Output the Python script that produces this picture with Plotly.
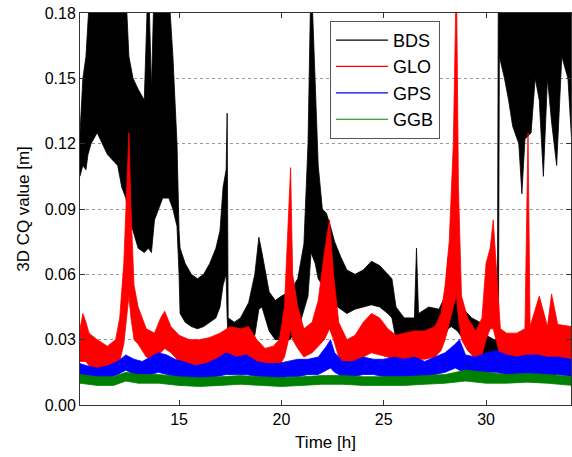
import plotly.graph_objects as go

# envelopes (low / high) of each series; time in hours
bds_t = [10.16, 10.3, 10.45, 10.55, 10.7, 11.0, 11.5, 12.0, 12.2, 12.4, 12.55, 12.75, 13.0, 13.3, 13.5,
         13.65, 13.8, 14.2, 14.5, 14.7, 14.9, 15.0, 15.05, 15.3, 15.6, 15.9, 16.2, 16.5, 16.8, 17.0,
         17.15, 17.3, 17.35, 17.4, 17.7, 18.0, 18.4, 18.7, 18.9, 19.05, 19.2, 19.4, 19.7, 20.0, 20.4,
         20.8, 21.1, 21.3, 21.45, 21.65, 21.8, 22.0, 22.2, 22.4, 22.6, 22.9, 23.2, 23.6, 24.0, 24.4,
         24.8, 25.2, 25.4, 25.6, 26.0, 26.5, 26.6, 26.7, 27.2, 27.7, 28.0, 28.15, 28.3, 28.6, 28.9,
         29.3, 29.7, 30.0, 30.4, 30.55, 30.6, 30.65, 30.9, 31.1, 31.3, 31.6, 31.75, 31.9, 32.2, 32.4,
         32.6, 32.8, 33.0, 33.2, 33.45, 33.7, 34.0, 34.19]
bds_lo = [0.105, 0.11, 0.108, 0.115, 0.12, 0.125, 0.115, 0.11, 0.10, 0.095, 0.085, 0.08, 0.072, 0.07, 0.072,
          0.07, 0.085, 0.095, 0.095, 0.09, 0.082, 0.06, 0.042, 0.038, 0.036, 0.035, 0.036, 0.038, 0.04, 0.045,
          0.055, 0.06, 0.04, 0.03, 0.026, 0.027, 0.03, 0.032, 0.044, 0.045, 0.04, 0.034, 0.03, 0.03, 0.03,
          0.034, 0.044, 0.05, 0.07, 0.065, 0.058, 0.055, 0.052, 0.05, 0.046, 0.044, 0.042, 0.044, 0.045, 0.046,
          0.045, 0.042, 0.04, 0.03, 0.028, 0.027, 0.03, 0.029, 0.03, 0.03, 0.032, 0.035, 0.036, 0.034, 0.03,
          0.028, 0.025, 0.02, 0.018, 0.018, 0.018, 0.16, 0.15, 0.14, 0.128, 0.12, 0.097, 0.122, 0.125, 0.15,
          0.14, 0.105, 0.15, 0.13, 0.11, 0.16, 0.15, 0.12]
bds_hi = [0.125, 0.15, 0.16, 0.18, 0.20, 0.20, 0.20, 0.20, 0.20, 0.19, 0.16, 0.15, 0.145, 0.14, 0.20,
          0.145, 0.20, 0.20, 0.19, 0.16, 0.12, 0.08, 0.072, 0.065, 0.06, 0.058, 0.06, 0.065, 0.072, 0.08,
          0.10, 0.108, 0.134, 0.04, 0.038, 0.04, 0.047, 0.06, 0.077, 0.07, 0.062, 0.052, 0.048, 0.05, 0.052,
          0.058, 0.074, 0.12, 0.20, 0.15, 0.11, 0.09, 0.088, 0.082, 0.075, 0.068, 0.062, 0.06, 0.062, 0.066,
          0.064, 0.06, 0.058, 0.045, 0.04, 0.04, 0.072, 0.042, 0.045, 0.044, 0.05, 0.068, 0.06, 0.055, 0.044,
          0.04, 0.038, 0.032, 0.03, 0.03, 0.20, 0.20, 0.20, 0.20, 0.20, 0.20, 0.20, 0.20, 0.20, 0.20,
          0.20, 0.20, 0.20, 0.20, 0.20, 0.20, 0.20, 0.20]

glo_t = [10.16, 10.3, 10.45, 10.6, 11.0, 11.5, 11.9, 12.1, 12.3, 12.45, 12.55, 12.65, 12.8, 13.0, 13.4,
         13.8, 14.1, 14.3, 14.6, 15.0, 15.5, 16.0, 16.5, 17.0, 17.5, 18.0, 18.4, 18.8, 19.2, 19.6,
         19.9, 20.15, 20.35, 20.45, 20.55, 20.8, 21.1, 21.5, 21.8, 22.1, 22.35, 22.55, 22.8, 23.2, 23.6,
         24.0, 24.4, 24.8, 25.2, 25.6, 26.0, 26.5, 27.0, 27.5, 27.8, 28.0, 28.2, 28.4, 28.55, 28.65,
         28.8, 29.1, 29.5, 29.8, 30.0, 30.2, 30.35, 30.5, 30.7, 31.0, 31.5, 31.9, 32.05, 32.15, 32.6,
         33.0, 33.2, 33.5, 34.19]
glo_lo = [0.02, 0.02, 0.02, 0.018, 0.016, 0.015, 0.017, 0.02, 0.028, 0.04, 0.05, 0.04, 0.03, 0.028, 0.022,
          0.021, 0.024, 0.026, 0.024, 0.02, 0.018, 0.018, 0.019, 0.02, 0.021, 0.02, 0.021, 0.018, 0.015, 0.016,
          0.018, 0.022, 0.03, 0.035, 0.03, 0.026, 0.022, 0.024, 0.027, 0.03, 0.035, 0.03, 0.022, 0.018, 0.019,
          0.022, 0.024, 0.023, 0.022, 0.02, 0.02, 0.021, 0.021, 0.022, 0.025, 0.03, 0.038, 0.045, 0.05, 0.04,
          0.03, 0.025, 0.021, 0.023, 0.03, 0.035, 0.035, 0.03, 0.022, 0.02, 0.02, 0.021, 0.02, 0.021, 0.021,
          0.022, 0.022, 0.021, 0.02]
glo_hi = [0.035, 0.042, 0.038, 0.033, 0.03, 0.027, 0.03, 0.04, 0.065, 0.10, 0.125, 0.09, 0.055, 0.045, 0.035,
          0.033, 0.04, 0.043, 0.036, 0.032, 0.03, 0.03, 0.031, 0.033, 0.036, 0.035, 0.036, 0.03, 0.026, 0.027,
          0.03, 0.045, 0.085, 0.109, 0.06, 0.045, 0.035, 0.038, 0.048, 0.07, 0.085, 0.06, 0.038, 0.03, 0.032,
          0.038, 0.042, 0.04, 0.035, 0.032, 0.033, 0.034, 0.034, 0.036, 0.042, 0.055, 0.075, 0.12, 0.20, 0.10,
          0.05, 0.04, 0.034, 0.04, 0.065, 0.072, 0.085, 0.065, 0.035, 0.033, 0.033, 0.035, 0.125, 0.036, 0.05,
          0.036, 0.051, 0.037, 0.036]

gps_t = [10.16, 10.5, 11.0, 11.5, 12.0, 12.4, 12.8, 13.2, 13.6, 14.0, 14.4, 14.8, 15.2, 15.8, 16.3,
         16.8, 17.3, 17.8, 18.3, 18.8, 19.3, 19.8, 20.3, 20.8, 21.3, 21.8, 22.2, 22.4, 22.6, 23.0,
         23.5, 24.0, 24.5, 25.0, 25.5, 26.0, 26.5, 27.0, 27.5, 28.0, 28.5, 28.7, 29.0, 29.5, 30.0,
         30.5, 31.0, 31.5, 32.0, 32.5, 33.0, 33.5, 34.19]
gps_lo = [0.013, 0.012, 0.012, 0.012, 0.014, 0.016, 0.014, 0.013, 0.014, 0.015, 0.014, 0.013, 0.012, 0.011, 0.012,
          0.013, 0.014, 0.014, 0.014, 0.013, 0.012, 0.012, 0.013, 0.013, 0.014, 0.014, 0.016, 0.017, 0.015, 0.013,
          0.013, 0.014, 0.014, 0.013, 0.013, 0.013, 0.013, 0.013, 0.014, 0.015, 0.017, 0.016, 0.014, 0.014, 0.015,
          0.015, 0.014, 0.014, 0.014, 0.014, 0.013, 0.014, 0.013]
gps_hi = [0.019, 0.018, 0.017, 0.018, 0.02, 0.023, 0.021, 0.02, 0.022, 0.024, 0.023, 0.021, 0.02, 0.018, 0.019,
          0.021, 0.024, 0.022, 0.023, 0.02, 0.019, 0.019, 0.02, 0.021, 0.021, 0.022, 0.027, 0.03, 0.024, 0.02,
          0.02, 0.022, 0.021, 0.021, 0.022, 0.021, 0.022, 0.02, 0.022, 0.024, 0.028, 0.03, 0.023, 0.022, 0.024,
          0.025, 0.023, 0.022, 0.023, 0.023, 0.022, 0.022, 0.021]

ggb_t = [10.16, 11.0, 11.8, 12.4, 13.0, 14.0, 15.0, 16.0, 17.0, 18.0, 19.0, 20.0, 21.0, 22.0, 23.0,
         24.0, 25.0, 26.0, 27.0, 28.0, 29.0, 30.0, 31.0, 32.0, 33.0, 34.19]
ggb_lo = [0.01, 0.009, 0.009, 0.011, 0.01, 0.01, 0.009, 0.0085, 0.009, 0.0095, 0.009, 0.0085, 0.009, 0.0095, 0.0095,
          0.009, 0.009, 0.009, 0.0095, 0.01, 0.011, 0.01, 0.01, 0.0105, 0.01, 0.009]
ggb_hi = [0.014, 0.013, 0.013, 0.015, 0.014, 0.014, 0.013, 0.0125, 0.013, 0.0135, 0.013, 0.0125, 0.013, 0.0135, 0.0135,
          0.013, 0.013, 0.013, 0.0135, 0.014, 0.016, 0.015, 0.014, 0.0145, 0.014, 0.013]

series = [
    ("BDS", "#000000", bds_t, bds_lo, bds_hi),
    ("GLO", "#ff0000", glo_t, glo_lo, glo_hi),
    ("GPS", "#0000ff", gps_t, gps_lo, gps_hi),
    ("GGB", "#008000", ggb_t, ggb_lo, ggb_hi),
]

FONT = "Arial, Liberation Sans, Helvetica, sans-serif"

fig = go.Figure()
for name, col, t, lo, hi in series:
    # noisy band drawn as its min/max envelope
    fig.add_trace(go.Scatter(
        x=t + t[::-1], y=hi + lo[::-1], mode="lines", fill="toself",
        fillcolor=col, line=dict(color=col, width=0.8), showlegend=False, hoverinfo="skip"))
for name, col, t, lo, hi in series:
    fig.add_trace(go.Scatter(x=[None], y=[None], mode="lines", name=name,
                             line=dict(color=col, width=1.2)))

fig.update_layout(
    width=572, height=457,
    margin=dict(l=80, r=1, t=13, b=52),
    paper_bgcolor="white", plot_bgcolor="white",
    font=dict(family=FONT, size=16, color="black"),
    legend=dict(x=0.509, y=0.98, xanchor="left", yanchor="top",
                bgcolor="white", bordercolor="#555", borderwidth=1,
                font=dict(size=18), itemwidth=52, tracegroupgap=0),
)
fig.update_xaxes(
    range=[10.16, 34.15], tickvals=[15, 20, 25, 30], automargin=False,
    showline=True, linecolor="#333", linewidth=1, mirror="ticks",
    ticks="inside", ticklen=5, tickcolor="#333", showgrid=False, zeroline=False,
    title=dict(text="Time [h]", font=dict(size=17), standoff=8),
)
fig.update_yaxes(
    range=[0, 0.18], tickvals=[0, 0.03, 0.06, 0.09, 0.12, 0.15, 0.18], tickformat=".2f",
    automargin=False,
    showline=True, linecolor="#333", linewidth=1, mirror="ticks",
    ticks="inside", ticklen=5, tickcolor="#333", zeroline=False,
    showgrid=True, gridcolor="#999", griddash="dot", gridwidth=1,
    title=dict(text="3D CQ value [m]", font=dict(size=17), standoff=10),
)

# drop the browser's default page margin so the figure sits at the window origin
fig.write_html("out.html", config={"displayModeBar": False},
               post_script="document.body.style.margin='0px';")
